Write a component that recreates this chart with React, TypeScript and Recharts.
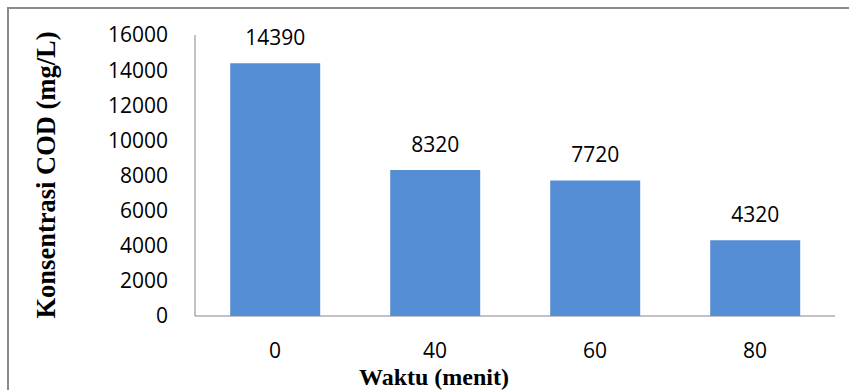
import { Bar, BarChart, XAxis, YAxis, LabelList, Label } from "recharts";

const waktu = ["0", "40", "60", "80"];
const cod = [14390, 8320, 7720, 4320];
const yTicks = [0, 2000, 4000, 6000, 8000, 10000, 12000, 14000, 16000];

const data = waktu.map((w, i) => ({ waktu: w, cod: cod[i] }));

const tickFont = { fontFamily: "'Open Sans', sans-serif", fontSize: 21, fill: "#000" };
const titleFont = "'Liberation Serif', 'Times New Roman', serif";

export default function App() {
  return (
    <div style={{ position: "fixed", left: 0, top: 0, width: 849, height: 390, overflow: "hidden", background: "#fff" }}>
      <div
        style={{
          position: "absolute",
          left: 7,
          top: 7,
          width: 900,
          height: 500,
          border: "2px solid #8a8a8a",
        }}
      />
      <div style={{ position: "absolute", left: 0, top: 0 }}>
        <BarChart
          width={849}
          height={390}
          data={data}
          margin={{ top: 35, right: 14, bottom: 0, left: 0 }}
          barCategoryGap="22%"
        >
          <XAxis
            dataKey="waktu"
            height={74}
            tickLine={false}
            tickSize={0}
            tickMargin={27}
            stroke="#868686"
            tick={tickFont}
          >
            <Label
              value="Waktu (menit)"
              position="insideBottom"
              dx={-81}
              style={{ fontFamily: titleFont, fontWeight: "bold", fontSize: 24, fill: "#000" }}
            />
          </XAxis>
          <YAxis
            width={195}
            domain={[0, 16000]}
            ticks={yTicks}
            interval={0}
            tickLine={false}
            tickSize={0}
            tickMargin={27}
            stroke="#868686"
            tick={tickFont}
          >
            <Label
              content={() => (
                <text
                  transform="translate(46,175) rotate(-90)"
                  textAnchor="middle"
                  dominantBaseline="central"
                  style={{ fontFamily: titleFont, fontWeight: "bold", fontSize: 26.5, fill: "#000" }}
                >
                  Konsentrasi COD (mg/L)
                </text>
              )}
            />
          </YAxis>
          <Bar dataKey="cod" fill="#558ed5" isAnimationActive={false}>
            <LabelList dataKey="cod" position="top" offset={18} style={tickFont} />
          </Bar>
        </BarChart>
      </div>
    </div>
  );
}
